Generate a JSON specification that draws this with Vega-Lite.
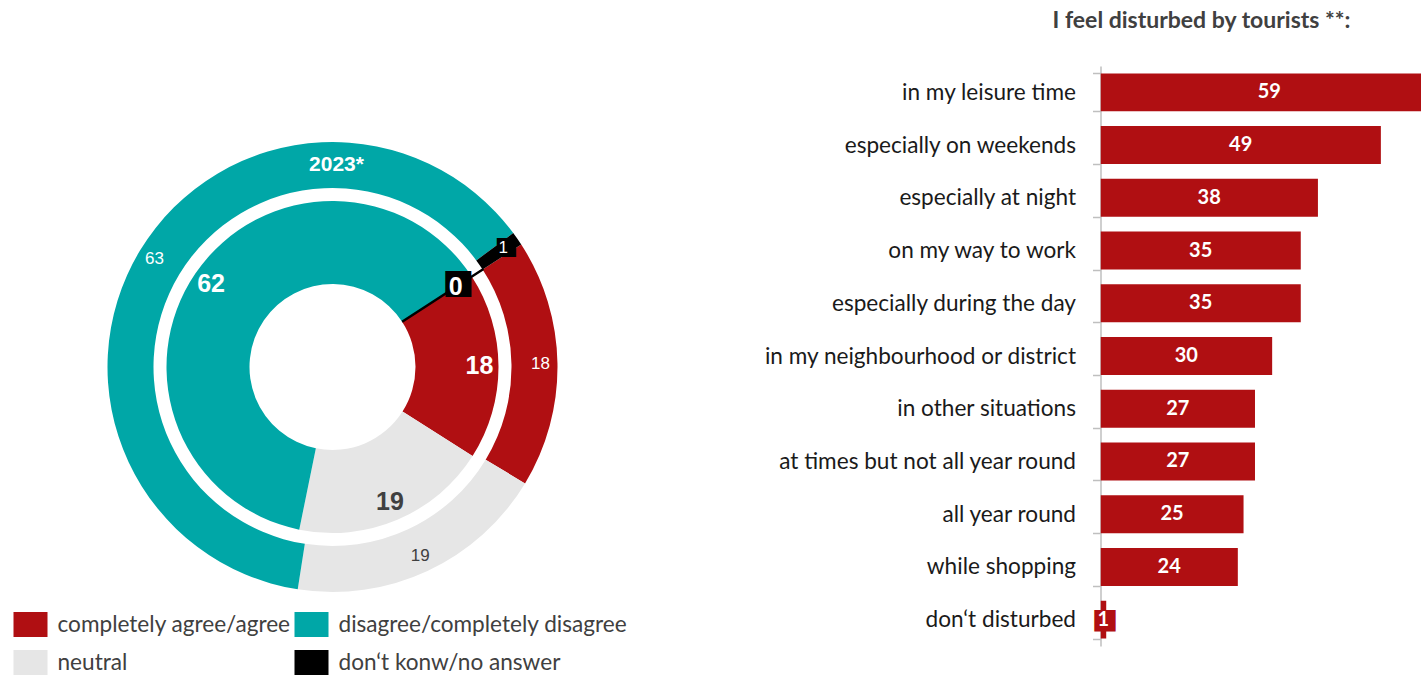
{
  "$schema": "https://vega.github.io/schema/vega-lite/v6.json",
  "padding": {"left": 17.5, "top": 9, "right": 0, "bottom": 0},
  "background": "white",
  "config": {"view": {"stroke": null}, "font": "Liberation Sans"},
  "datasets": {
    "donut": [
      {"ring": "outer", "cat": "completely agree/agree", "value": 18, "order": 1},
      {"ring": "outer", "cat": "neutral", "value": 19, "order": 2},
      {"ring": "outer", "cat": "disagree/completely disagree", "value": 63, "order": 3},
      {"ring": "outer", "cat": "don‘t konw/no answer", "value": 1, "order": 4},
      {"ring": "inner", "cat": "completely agree/agree", "value": 18, "order": 1},
      {"ring": "inner", "cat": "neutral", "value": 19, "order": 2},
      {"ring": "inner", "cat": "disagree/completely disagree", "value": 62, "order": 3},
      {"ring": "inner", "cat": "don‘t konw/no answer", "value": 0, "order": 4}
    ],
    "bars": [
      {"label": "in my leisure time", "value": 59},
      {"label": "especially on weekends", "value": 49},
      {"label": "especially at night", "value": 38},
      {"label": "on my way to work", "value": 35},
      {"label": "especially during the day", "value": 35},
      {"label": "in my neighbourhood or district", "value": 30},
      {"label": "in other situations", "value": 27},
      {"label": "at times but not all year round", "value": 27},
      {"label": "all year round", "value": 25},
      {"label": "while shopping", "value": 24},
      {"label": "don‘t disturbed", "value": 1}
    ]
  },
  "bounds": "flush",
  "spacing": 543,
  "hconcat": [
    {
      "width": 450,
      "height": 602,
      "data": {"name": "donut"},
      "title": {"text": "2023*", "orient": "top", "anchor": "middle", "frame": "group", "offset": -126, "dx": 4, "baseline": "alphabetic", "font": "Liberation Sans", "fontSize": 21, "fontWeight": "bold", "color": "white"},
      "encoding": {
        "theta": {"field": "value", "type": "quantitative", "stack": "normalize", "scale": {"range": [0.995, 7.2782]}},
        "order": {"field": "order", "type": "quantitative"}
      },
      "layer": [
        {
          "transform": [{"filter": "datum.ring === 'outer'"}],
          "mark": {"type": "arc", "radius": 225, "radius2": 179, "stroke": "black"},
          "encoding": {
            "color": {
              "field": "cat", "type": "nominal",
              "scale": {"domain": ["completely agree/agree", "disagree/completely disagree", "neutral", "don‘t konw/no answer"], "range": ["#B00F12", "#00A7A7", "#E6E6E6", "#000000"]},
              "legend": {"orient": "none", "direction": "horizontal", "legendX": -89.5, "legendY": 546, "columns": 2, "title": null, "padding": 0, "symbolType": "M-1.36,-1H1.36V1H-1.36Z", "symbolSize": 625, "symbolStrokeWidth": 0, "symbolOpacity": 1, "labelFont": "Lato", "labelFontSize": 22.6, "labelColor": "#404040", "labelOffset": 14.5, "labelLimit": 400, "columnPadding": 3, "rowPadding": 13}
            },
            "strokeWidth": {"value": 0}
          }
        },
        {
          "transform": [{"filter": "datum.ring === 'inner'"}],
          "mark": {"type": "arc", "radius": 166, "radius2": 83, "stroke": "black"},
          "encoding": {
            "color": {"field": "cat", "type": "nominal"},
            "strokeWidth": {"value": 0}
          }
        },
        {
          "transform": [{"filter": "datum.ring === 'inner'"}],
          "mark": {"type": "arc", "radius": 180, "radius2": 83, "stroke": "black", "fillOpacity": 0},
          "encoding": {
            "strokeWidth": {"condition": {"test": "datum.cat === 'don‘t konw/no answer'", "value": 2.5}, "value": 0}
          }
        },
        {
          "transform": [{"filter": "datum.ring === 'outer'"}],
          "mark": {"type": "text", "radius": 212, "font": "DejaVu Sans", "fontSize": 25, "baseline": "middle", "align": "center", "color": "black"},
          "encoding": {"text": {"condition": {"test": "datum.cat === 'don‘t konw/no answer'", "value": "■"}, "value": ""}}
        },
        {
          "transform": [{"filter": "datum.ring === 'inner'"}],
          "mark": {"type": "text", "radius": 150, "font": "DejaVu Sans", "fontSize": 34, "baseline": "middle", "align": "center", "color": "black", "dy": -2},
          "encoding": {"text": {"condition": {"test": "datum.cat === 'don‘t konw/no answer'", "value": "■"}, "value": ""}}
        },
        {
          "transform": [{"filter": "datum.ring === 'outer'"}],
          "mark": {"type": "text", "radius": 208, "font": "Liberation Sans", "fontSize": 17, "baseline": "middle", "align": "center"},
          "encoding": {
            "text": {"field": "value", "type": "quantitative"},
            "color": {"condition": {"test": "datum.cat === 'neutral'", "value": "#404040"}, "value": "white"}
          }
        },
        {
          "transform": [{"filter": "datum.ring === 'inner'"}],
          "mark": {"type": "text", "radius": 147, "font": "Liberation Sans", "fontSize": 25, "fontWeight": "bold", "baseline": "middle", "align": "center"},
          "encoding": {
            "text": {"field": "value", "type": "quantitative"},
            "color": {"condition": {"test": "datum.cat === 'neutral'", "value": "#404040"}, "value": "white"}
          }
        }
      ]
    },
    {
      "width": 321,
      "height": 580,
      "data": {"name": "bars"},
      "title": {"text": "I feel disturbed by tourists **:", "orient": "top", "frame": "group", "anchor": "middle", "dx": -59.5, "offset": 4.3, "baseline": "alphabetic", "font": "Lato", "fontSize": 23, "fontWeight": "bold", "color": "#404040"},
      "encoding": {
        "y": {
          "field": "label", "type": "nominal", "sort": null,
          "scale": {"paddingInner": 0.28, "paddingOuter": 0.14},
          "axis": {"title": null, "domainColor": "#BFBFBF", "domainWidth": 1.5, "tickColor": "#BFBFBF", "tickWidth": 1.5, "tickSize": 8, "tickBand": "extent", "labelFont": "Lato", "labelFontSize": 22.6, "labelColor": "#1a1a1a", "labelPadding": 17, "labelLimit": 500}
        }
      },
      "layer": [
        {
          "mark": {"type": "bar", "color": "#B00F12", "clip": true},
          "encoding": {"x": {"field": "value", "type": "quantitative", "scale": {"domain": [0, 56.1], "nice": false, "zero": true}, "axis": null}}
        },
        {
          "transform": [{"filter": "datum.value < 3"}],
          "mark": {"type": "text", "font": "DejaVu Sans", "fontSize": 28, "baseline": "middle", "align": "center", "color": "#B00F12", "dx": 1.5},
          "encoding": {
            "x": {"field": "value", "type": "quantitative", "scale": {"domain": [0, 112.2], "nice": false, "zero": true}, "axis": null},
            "text": {"value": "■"}
          }
        },
        {
          "mark": {"type": "text", "font": "Lato", "fontSize": 20, "fontWeight": "bold", "baseline": "middle", "align": "center", "color": "white"},
          "encoding": {
            "x": {"field": "value", "type": "quantitative", "scale": {"domain": [0, 112.2], "nice": false, "zero": true}, "axis": null},
            "text": {"field": "value", "type": "quantitative"}
          }
        }
      ],
      "resolve": {"scale": {"x": "independent"}}
    }
  ]
}
